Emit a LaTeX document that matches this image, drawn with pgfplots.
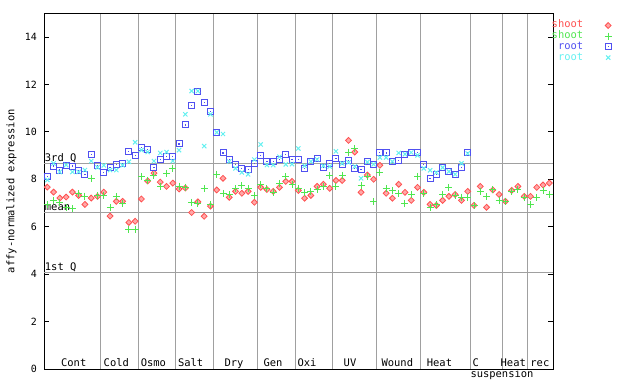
\documentclass[border=0pt]{standalone}
\usepackage{fontspec}
\setmainfont{DejaVu Sans Mono}
\usepackage{pgfplots}
\pgfplotsset{compat=1.18}
\usepackage{pgfplotstable}
\definecolor{cR}{RGB}{255,80,80}
\definecolor{cG}{RGB}{80,230,80}
\definecolor{cB}{RGB}{80,80,240}
\definecolor{cC}{RGB}{100,240,240}
\definecolor{cGrid}{RGB}{160,160,160}
\newcommand\lf{\fontsize{10.5}{12}\selectfont}
\newcommand\tf{\fontsize{10}{11}\selectfont}
\pgfdeclareplotmark{sqdot}{%
 \pgfpathrectangle{\pgfqpoint{-\pgfplotmarksize}{-\pgfplotmarksize}}{\pgfqpoint{2\pgfplotmarksize}{2\pgfplotmarksize}}%
 \pgfusepathqstroke
 \pgfpathrectangle{\pgfqpoint{-0.6bp}{-0.6bp}}{\pgfqpoint{1.2bp}{1.2bp}}%
 \pgfusepathqfill}
\pgfplotstableread{
i red green blue cyan
0 7.67 6.94 8.11 7.97
1 7.46 7.12 8.56 8.67
2 7.21 7.04 8.39 8.31
3 7.25 6.82 8.60 8.60
4 7.46 6.75 8.56 8.31
5 7.32 7.38 8.38 8.31
6 6.94 7.29 8.21 8.39
7 7.21 8.05 9.05 8.77
8 7.28 7.32 8.57 8.50
9 7.46 7.32 8.29 8.59
10 6.45 6.82 8.50 8.39
11 7.07 7.28 8.63 8.39
12 7.07 6.98 8.67 8.59
13 6.18 5.90 9.18 8.74
14 6.23 5.90 9.01 9.56
15 7.17 8.12 9.35 9.23
16 7.93 7.97 9.27 9.15
17 8.26 8.16 8.50 8.77
18 7.88 7.70 8.84 9.11
19 7.70 8.25 8.97 9.15
20 7.84 8.47 8.97 8.77
21 7.59 7.71 9.49 9.23
22 7.63 7.67 10.29 10.74
23 6.60 7.04 11.12 11.72
24 7.05 7.00 11.69 11.72
25 6.44 7.62 11.24 9.40
26 6.87 6.94 10.85 10.74
27 7.55 8.22 9.98 9.98
28 8.04 7.41 9.11 9.91
29 7.24 7.34 8.84 8.75
30 7.49 7.62 8.63 8.46
31 7.41 7.74 8.47 8.29
32 7.49 7.62 8.42 8.21
33 7.03 7.32 8.67 8.83
34 7.66 7.79 9.01 9.47
35 7.57 7.62 8.75 8.60
36 7.49 7.45 8.75 8.60
37 7.66 7.83 8.85 8.95
38 7.91 8.12 9.06 8.63
39 7.91 7.79 8.84 8.64
40 7.53 7.62 8.84 9.30
41 7.20 7.45 8.46 8.57
42 7.32 7.49 8.75 8.75
43 7.70 7.57 8.88 8.84
44 7.79 7.70 8.50 8.57
45 7.62 8.16 8.67 8.54
46 7.95 7.70 8.88 9.18
47 7.95 8.16 8.63 8.67
48 9.64 9.15 8.80 8.71
49 9.15 9.30 8.46 8.54
50 7.45 7.74 8.42 8.04
51 8.18 8.12 8.75 8.73
52 8.00 7.07 8.63 8.63
53 8.59 8.29 9.13 8.92
54 7.41 7.62 9.11 8.92
55 7.20 7.53 8.73 8.75
56 7.79 7.41 8.80 9.11
57 7.45 6.98 9.06 9.06
58 7.11 7.36 9.13 9.13
59 7.66 8.12 9.13 9.01
60 7.45 7.41 8.63 8.46
61 6.94 6.81 8.04 8.38
62 6.90 6.94 8.21 8.29
63 7.11 7.36 8.50 8.50
64 7.28 7.66 8.33 8.33
65 7.36 7.32 8.21 8.21
66 7.11 7.25 8.50 8.67
67 7.49 7.24 9.13 9.09
68 6.90 6.90 nan nan
69 7.70 7.49 nan nan
70 6.82 7.28 nan nan
71 7.55 7.57 nan nan
72 7.36 7.11 nan nan
73 7.07 7.07 nan nan
74 7.53 7.48 nan nan
75 7.70 7.57 nan nan
76 7.28 7.24 nan nan
77 7.28 6.94 nan nan
78 7.66 7.24 nan nan
79 7.76 7.53 nan nan
80 7.84 7.36 nan nan
}\datatable
\begin{document}
\begin{tikzpicture}
\useasboundingbox (0,0) rectangle (640bp,384bp);
\begin{axis}[
 at={(44bp,15bp)}, anchor=south west,
 scale only axis, width=509bp, height=355.7bp,
 xmin=-0.526, xmax=80.59, ymin=0, ymax=15,
 clip=false,
 axis line style={black, line width=1bp},
 xtick={8.5,14.5,20.5,26.5,33.5,39.5,45.5,52.5,59.5,67.5,72.5,76.5},
 xticklabels={},
 xmajorgrids,
 x tick style={draw=none},
 ytick={0,2,...,14},
 tick align=inside,
 yticklabel pos=left,
 major tick length=5bp,
 y tick style={black, line width=1bp},
 grid style={cGrid, line width=1bp},
 extra y ticks={4.08,6.62,8.67},
 extra y tick labels={},
 extra y tick style={grid=major, major tick length=0pt},
 /pgf/number format/assume math mode=true,
 yticklabel style={font=\tf, xshift=-3.5bp},
 ylabel={affy-normalized expression},
 ylabel style={at={(axis description cs:-0.0639,0.5)}, anchor=center, font=\lf},
 legend style={at={(axis description cs:1,1)}, anchor=north west, xshift=-1.5bp, yshift=-8.5bp,
   draw=none, fill=none, inner sep=0pt, row sep=3.7bp,
   nodes={inner sep=0pt, text height=6bp, text depth=1bp, font=\lf}},
 legend cell align=right,
 legend plot pos=right,
 legend image code/.code={\path[draw=none,fill=none] (0bp,-3bp) rectangle (28bp,3bp);
   \draw[#1,mark repeat=2,mark phase=2] plot coordinates {(0bp,0bp) (25bp,0bp) (28bp,0bp)};},
]
\addplot[only marks, mark=square*, mark size=2.1bp, mark options={rotate=45, draw=cR, fill=cR!50!white, line width=0.8bp}] table[x=i, y=red] {\datatable};
\addlegendentry{\textcolor{cR}{shoot}}
\addplot[only marks, mark=+, mark size=3.5bp, mark options={draw=cG, line width=1bp}] table[x=i, y=green] {\datatable};
\addlegendentry{\textcolor{cG}{shoot}}
\addplot[only marks, mark=sqdot, mark size=3bp, mark options={draw=cB, fill=cB, line width=1bp}] table[x=i, y=blue] {\datatable};
\addlegendentry{\textcolor{cB}{root}}
\addplot[only marks, mark=x, mark size=3bp, mark options={draw=cC, line width=1bp}] table[x=i, y=cyan] {\datatable};
\addlegendentry{\textcolor{cC}{root}}
\node[anchor=base west, inner sep=0pt, font=\lf] at (axis cs:-0.41,8.74) {3rd Q};
\node[anchor=base west, inner sep=0pt, font=\lf] at (axis cs:-0.41,6.69) {mean};
\node[anchor=base west, inner sep=0pt, font=\lf] at (axis cs:-0.41,4.15) {1st Q};
\node[anchor=base, inner sep=0pt, font=\lf] at (axis cs:4.21,0.1) {Cont};
\node[anchor=base, inner sep=0pt, font=\lf] at (axis cs:11.0,0.1) {Cold};
\node[anchor=base, inner sep=0pt, font=\lf] at (axis cs:16.9,0.1) {Osmo};
\node[anchor=base, inner sep=0pt, font=\lf] at (axis cs:22.85,0.1) {Salt};
\node[anchor=base, inner sep=0pt, font=\lf] at (axis cs:29.75,0.1) {Dry};
\node[anchor=base, inner sep=0pt, font=\lf] at (axis cs:35.97,0.1) {Gen};
\node[anchor=base, inner sep=0pt, font=\lf] at (axis cs:41.39,0.1) {Oxi};
\node[anchor=base, inner sep=0pt, font=\lf] at (axis cs:48.24,0.1) {UV};
\node[anchor=base, inner sep=0pt, font=\lf] at (axis cs:55.78,0.1) {Wound};
\node[anchor=base, inner sep=0pt, font=\lf] at (axis cs:62.5,0.1) {Heat};
\node[anchor=base, inner sep=0pt, font=\lf] at (axis cs:68.3,0.1) {C};
\node[anchor=base, inner sep=0pt, font=\lf] at (axis cs:74.26,0.1) {Heat};
\node[anchor=base, inner sep=0pt, font=\lf] at (axis cs:78.5,0.1) {rec};
\node[anchor=base, inner sep=0pt, font=\lf] at (axis cs:72.46,-0.34) {suspension};
\end{axis}
\end{tikzpicture}
\end{document}
